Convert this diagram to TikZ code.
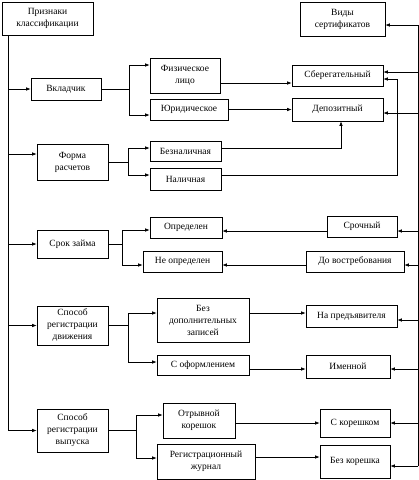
\documentclass[tikz,border=0pt]{standalone}
\usepackage{fontspec}
\setmainfont{Liberation Serif}
\usetikzlibrary{arrows.meta}

\begin{document}
\begin{tikzpicture}[x=1pt, y=-1pt, line width=0.6pt,
        >={Latex[length=4.5pt,width=3.5pt]},
        every node/.style = {shape=rectangle, draw, align=center,
          inner sep=0pt, font=\fontsize{9.5}{12}\selectfont}]
  \useasboundingbox (0,0) rectangle (419,480);
  % left column
  \node[minimum width=91pt, minimum height=33pt] (priz) at (47.5,18.5) {Признаки\\классификации};
  \node[minimum width=70pt, minimum height=22pt] (vkl) at (66,89) {Вкладчик};
  \node[minimum width=71pt, minimum height=36pt] (forma) at (72.5,162) {Форма\\расчетов};
  \node[minimum width=71pt, minimum height=28pt] (srok) at (72.5,244) {Срок займа};
  \node[minimum width=71pt, minimum height=39pt] (dvizh) at (72.5,325.5) {Способ\\регистрации\\движения};
  \node[minimum width=71pt, minimum height=43pt] (vypusk) at (72.5,430.5) {Способ\\регистрации\\выпуска};
  % middle column
  \node[minimum width=70pt, minimum height=35pt] (fiz) at (185,75.5) {Физическое\\лицо};
  \node[minimum width=78pt, minimum height=21pt] (yur) at (189,109.5) {Юридическое};
  \node[minimum width=71pt, minimum height=20pt] (beznal) at (185.5,151) {Безналичная};
  \node[minimum width=71pt, minimum height=22pt] (nal) at (185.5,179) {Наличная};
  \node[minimum width=72pt, minimum height=21pt] (opr) at (186,227.5) {Определен};
  \node[minimum width=79pt, minimum height=21pt] (neopr) at (182.5,261.5) {Не определен};
  \node[minimum width=92pt, minimum height=44pt] (bezdop) at (203,320) {Без\\дополнительных\\записей};
  \node[minimum width=92pt, minimum height=20pt] (oform) at (203,365) {С оформлением};
  \node[minimum width=72pt, minimum height=35pt] (otryv) at (199,420.5) {Отрывной\\корешок};
  \node[minimum width=98pt, minimum height=35pt] (regzh) at (206,461.5) {Регистрационный\\журнал};
  % right column
  \node[minimum width=85pt, minimum height=34pt] (vidy) at (342.5,19) {Виды\\сертификатов};
  \node[minimum width=91pt, minimum height=21pt] (sber) at (337.5,75.5) {Сберегательный};
  \node[minimum width=91pt, minimum height=23pt] (depo) at (337.5,109.5) {Депозитный};
  \node[minimum width=70pt, minimum height=21pt] (sroch) at (362,226.5) {Срочный};
  \node[minimum width=98pt, minimum height=21pt] (dovostr) at (355,261.5) {До востребования};
  \node[minimum width=91pt, minimum height=22pt] (predj) at (351.5,316) {На предъявителя};
  \node[minimum width=84pt, minimum height=23pt] (imen) at (348,366.5) {Именной};
  \node[minimum width=70pt, minimum height=28pt] (skor) at (355,423) {С корешком};
  \node[minimum width=70pt, minimum height=33pt] (bezkor) at (355,461.5) {Без корешка};

  % left trunk
  \coordinate (ltop) at (8,35);
  \draw[->] (ltop) |- (vypusk.west);
  \draw[->] (ltop |- vkl.west) -- (vkl.west);
  \draw[->] ([yshift=8pt]forma.west -| ltop) -- ([yshift=8pt]forma.west);
  \draw[->] (ltop |- srok.west) -- (srok.west);
  \draw[->] (ltop |- dvizh.west) -- (dvizh.west);

  % branches
  \draw (vkl.east) -- ++(28,0) coordinate (jvkl);
  \draw[->] (jvkl) |- ([yshift=10.5pt]fiz.west);
  \draw[->] (jvkl) |- ([yshift=-5.5pt]yur.west);
  \draw (forma.east) -- ++(20,0) coordinate (jforma);
  \draw[->] (jforma) |- ([yshift=3pt]beznal.west);
  \draw[->] (jforma) |- ([yshift=4pt]nal.west);
  \draw (srok.east) -- ++(14,0) coordinate (jsrok);
  \draw[->] (jsrok) |- ([yshift=-2.5pt]opr.west);
  \draw[->] (jsrok) |- ([yshift=-3.5pt]neopr.west);
  \draw (dvizh.east) -- ++(20,0) coordinate (jdvizh);
  \draw[->] (jdvizh) |- ([yshift=7pt]bezdop.west);
  \draw[->] (jdvizh) |- ([yshift=3pt]oform.west);
  \draw (vypusk.east) -- ++(28,0) coordinate (jvypusk);
  \draw[->] (jvypusk) |- ([yshift=5.5pt]otryv.west);
  \draw[->] (jvypusk) |- ([yshift=3.5pt]regzh.west);

  % middle to right
  \coordinate (rmid) at (397,0);
  \draw[->] ([yshift=-7.5pt]fiz.east) -- ([yshift=-7.5pt]sber.west);
  \draw[->] (yur) -- (depo);
  \draw[->] ([yshift=3pt]beznal.east) -| ([xshift=3.5pt]depo.south);
  \draw[->] ([yshift=4pt]nal.east) -- ([yshift=4pt]nal.east -| rmid)
    |- ([yshift=-3.5pt]sber.east);
  \draw[->] ([yshift=-4.5pt]sroch.west) -- ([yshift=-4.5pt]sroch.west -| opr.east);
  \draw[->] ([yshift=-3.5pt]dovostr.west) -- ([yshift=-3.5pt]dovostr.west -| neopr.east);
  \draw[->] ([yshift=7pt]bezdop.east) -- ([yshift=7pt]bezdop.east -| predj.west);
  \draw[->] ([yshift=-4pt]oform.east) -- ([yshift=-4pt]oform.east -| imen.west);
  \draw[->] ([yshift=-2.5pt]otryv.east) -- ([yshift=-2.5pt]otryv.east -| skor.west);
  \draw[->] ([yshift=4.5pt]regzh.east) -- ([yshift=4.5pt]regzh.east -| bezkor.west);

  % right trunk
  \coordinate (rbot) at (418,466);
  \draw[->] (rbot) |- ([yshift=-6pt]vidy.east);
  \draw[->] (rbot) -- (rbot -| bezkor.east);
  \draw[->] ([yshift=3.5pt]sber.east -| rbot) -- ([yshift=3.5pt]sber.east);
  \draw[->] ([yshift=-3.5pt]depo.east -| rbot) -- ([yshift=-3.5pt]depo.east);
  \draw[->] ([yshift=-4.5pt]sroch.east -| rbot) -- ([yshift=-4.5pt]sroch.east);
  \draw[->] ([yshift=-3.5pt]dovostr.east -| rbot) -- ([yshift=-3.5pt]dovostr.east);
  \draw[->] ([yshift=-4pt]predj.east -| rbot) -- ([yshift=-4pt]predj.east);
  \draw[->] ([yshift=-2.5pt]imen.east -| rbot) -- ([yshift=-2.5pt]imen.east);
  \draw[->] (skor.east -| rbot) -- (skor.east);
\end{tikzpicture}
\end{document}
